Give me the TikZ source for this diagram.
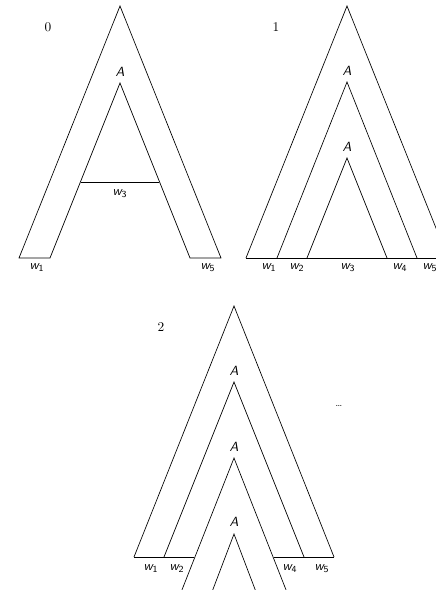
\documentclass[tikz,border=0pt]{standalone}
\usepackage{tikz}
\usetikzlibrary{positioning}
\newcommand{\wl}[1]{\textsf{\itshape w\textsubscript{\upshape #1}}}

\begin{document}
\begin{tikzpicture}[x=0.75pt,y=-0.75pt,line width=0.5pt]
\tikzstyle{lab}=[inner sep=0pt,font=\sffamily\itshape]
\tikzstyle{step num}=[inner sep=0pt]
\useasboundingbox (0,0) rectangle (436,590);
\clip (0,0) rectangle (436,590);
% derivation 0
\coordinate (top0) at (120,6);
\coordinate (in0) at (120,83);
\draw (19,258) -- (top0) -- (221,258) -- (190,258) -- (in0) -- (50,258) -- cycle;
\draw (81,182) -- (159,182);
\node[step num] (n0) at (48,27) {0};
\node[lab,above=5pt of in0] (a0) {A};
\node[lab] (w03) at (120,194) {\wl{3}};
\node[lab] (w01) at (37,268) {\wl{1}};
\node[lab] (w05) at (208,268) {\wl{5}};
% derivation 1
\coordinate (top1) at (347,6);
\draw (246,258) -- (top1) -- (448,258);
\draw (277,258) -- (347,82) -- (417,258);
\draw (307,258) -- (347,158) -- (387,258);
\draw (246,258) -- (448,258);
\node[step num] (n1) at (276,27) {1};
\node[lab] (a11) at (347,71) {A};
\node[lab] (a12) at (347,147) {A};
\foreach \x/\i in {269/1,297/2,348/3,400/4,430/5}
  \node[lab] (w1\i) at (\x,268) {\wl{\i}};
% derivation 2
\coordinate (top2) at (234,306);
\draw (134,557) -- (top2) -- (334,557);
\draw (164,557) -- (234,382) -- (304,557);
\draw (176,605) -- (234,458) -- (292,605);
\draw (207,605) -- (234,534) -- (261,605);
\draw (134,557) -- (194,557);
\draw (274,557) -- (334,557);
\node[step num] (n2) at (161,327) {2};
\node[lab] (a21) at (234,371) {A};
\node[lab] (a22) at (234,447) {A};
\node[lab] (a23) at (234,522) {A};
\foreach \x/\i in {151/1,177/2,290/4,322/5}
  \node[lab] (w2\i) at (\x,569) {\wl{\i}};
\node[step num,font=\scriptsize] (more) at (339,406) {\dots};
\end{tikzpicture}
\end{document}
